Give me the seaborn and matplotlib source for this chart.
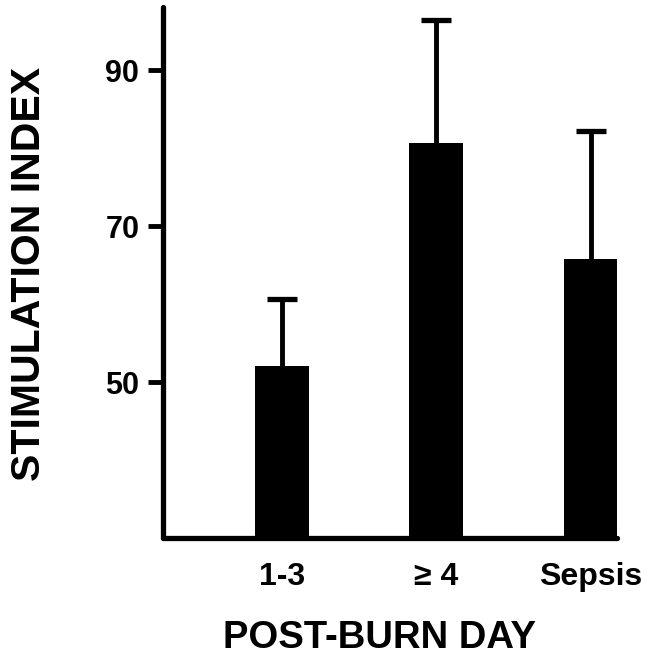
import matplotlib
matplotlib.use("Agg")
import matplotlib.pyplot as plt
import seaborn as sns
import pandas as pd
import numpy as np

categories = ["1-3", "\u2265 4", "Sepsis"]
means = [52.1, 80.6, 65.8]
upper_err = [8.6, 15.8, 16.4]
y_ticks = [50, 70, 90]

sns.set_style("ticks")
plt.rcParams['font.family'] = ['Liberation Sans', 'DejaVu Sans']
plt.rcParams['font.weight'] = 'bold'
plt.rcParams['text.color'] = 'black'
plt.rcParams['axes.labelcolor'] = 'black'
plt.rcParams['xtick.color'] = 'black'
plt.rcParams['ytick.color'] = 'black'
plt.rcParams['axes.edgecolor'] = 'black'

df = pd.DataFrame({"day": categories, "index": means})

fig = plt.figure(figsize=(6.57, 6.58), dpi=100)
ax = fig.add_axes([0.248, 0.1824, 0.691, 0.807])

sns.barplot(data=df, x="day", y="index", color="black", width=0.35,
            errorbar=None, ax=ax, saturation=1, edgecolor="black", linewidth=0)
eb = ax.errorbar(range(len(categories)), means, yerr=[[0]*len(means), upper_err],
                 fmt="none", ecolor="black", elinewidth=3.5, capsize=11, capthick=3.8,
                 zorder=1)
for cap in eb[1]:
    yd = np.asarray(cap.get_ydata(), dtype=float)
    if np.allclose(yd, means):
        cap.set_visible(False)

ax.set_xlim(-0.77, 2.17)
ax.set_ylim(30, 98.1)
ax.set_yticks(y_ticks)
ax.set_yticklabels([str(t) for t in y_ticks], fontsize=22, fontweight='bold')
ax.set_xticklabels(categories, fontsize=23, fontweight='bold')
ax.tick_params(axis='x', length=0, pad=17)
ax.tick_params(axis='y', length=11, width=3.5, pad=6, direction='out')

for s in ['top', 'right']:
    ax.spines[s].set_visible(False)
for s in ['left', 'bottom']:
    ax.spines[s].set_linewidth(3.8)
    ax.spines[s].set_capstyle('round')

ax.set_xlabel("POST-BURN DAY", fontsize=27.5, fontweight='bold')
ax.xaxis.set_label_coords(0.478, -0.155)
ax.set_ylabel("STIMULATION INDEX", fontsize=29.5, fontweight='bold')
ax.yaxis.set_label_coords(-0.253, 0.497)

fig.savefig("out.png", dpi=100, facecolor="white")
